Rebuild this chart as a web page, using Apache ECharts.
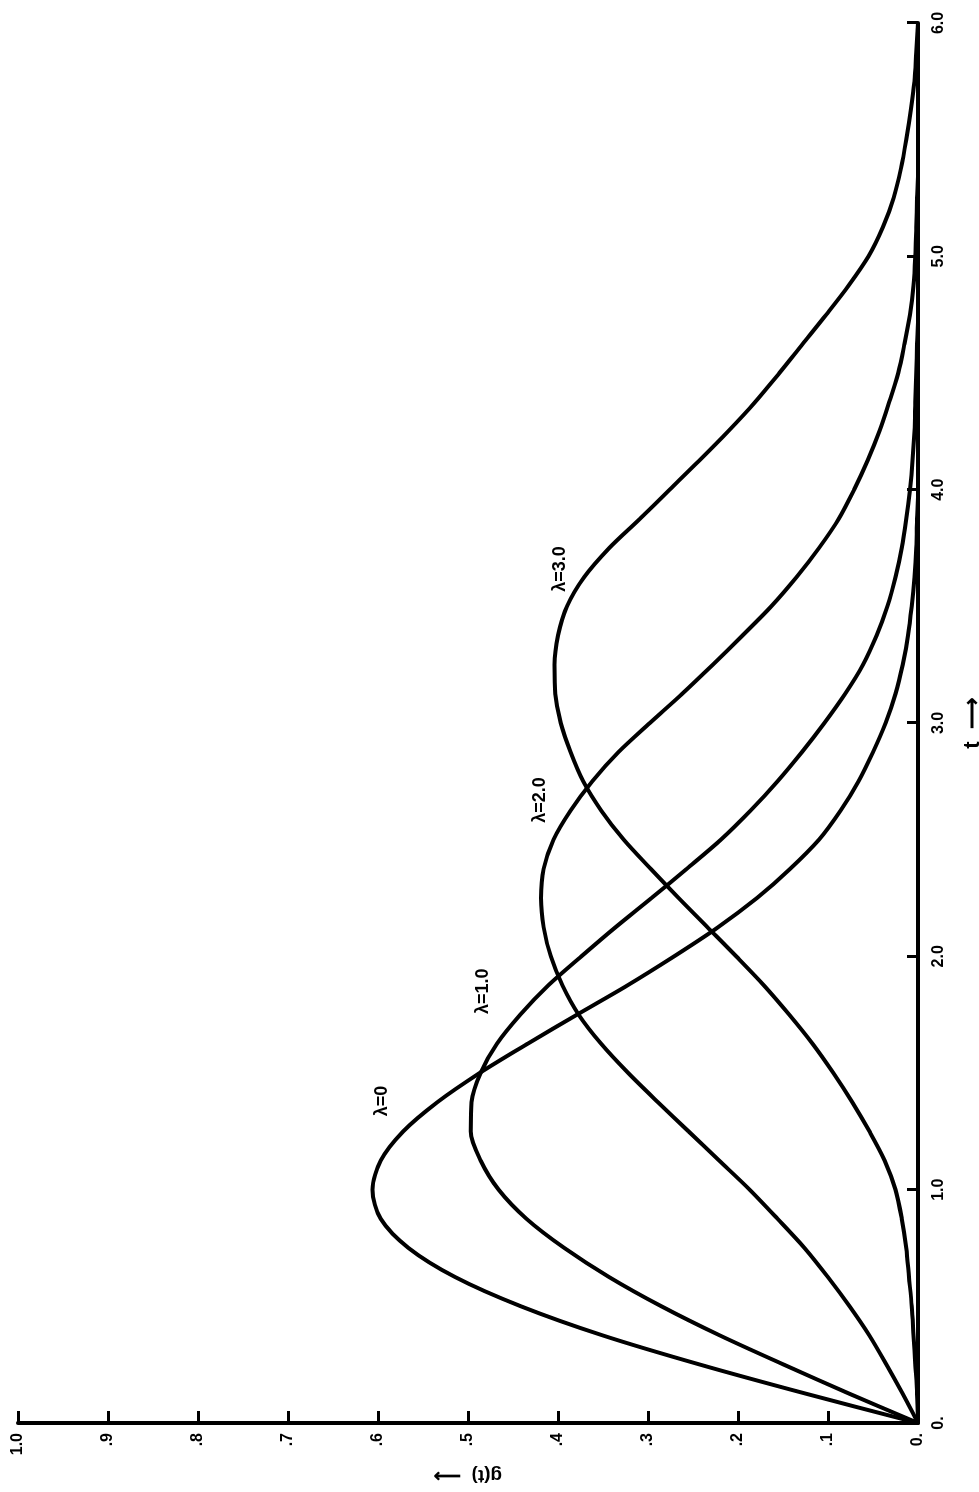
<!DOCTYPE html>
<html lang="en">
<head>
  <meta charset="UTF-8">
  <title>g(t)</title>
  <script src="https://cdn.jsdelivr.net/npm/echarts@6/dist/echarts.min.js"></script>
  <style>
    html, body {
      margin: 0;
      padding: 0;
      overflow: hidden;
      background: #fff;
      width: 979px;
      height: 1492px;
    }

    /* the figure is printed turned on its side, so draw it flat and turn the box */
    #main {
      position: absolute;
      left: 0;
      top: 0;
      width: 1492px;
      height: 979px;
      transform-origin: 0 0;
      transform: translate(0px, 1492px) rotate(-90deg);
    }
  </style>
</head>
<body>
<div id="main"></div>
<script>
  // t values (x axis)
  var tValues = [0, 0.125, 0.25, 0.375, 0.5, 0.625, 0.75, 0.875, 1.0, 1.125, 1.25, 1.375,
    1.5, 1.625, 1.75, 1.875, 2.0, 2.125, 2.25, 2.375, 2.5, 2.625, 2.75, 2.875,
    3.0, 3.125, 3.25, 3.375, 3.5, 3.625, 3.75, 3.875, 4.0, 4.125, 4.25, 4.375,
    4.5, 4.625, 4.75, 4.875, 5.0, 5.125, 5.25, 5.375, 5.5, 5.625, 5.75, 5.875, 6.0];

  // g(t)
  var gLambda0 = [0, 0.124, 0.242, 0.350, 0.441, 0.514, 0.566, 0.597, 0.606, 0.597, 0.572, 0.534,
    0.487, 0.434, 0.379, 0.323, 0.271, 0.222, 0.179, 0.142, 0.110, 0.086, 0.066, 0.050,
    0.036, 0.025, 0.017, 0.011, 0.007, 0.004, 0.002, 0.001, 0, 0, 0, 0,
    0, 0, 0, 0, 0, 0, 0, 0, 0, 0, 0, 0, 0];
  var gLambda1 = [0, 0.076, 0.149, 0.220, 0.285, 0.343, 0.393, 0.435, 0.466, 0.486, 0.497, 0.496,
    0.486, 0.468, 0.442, 0.411, 0.374, 0.336, 0.296, 0.257, 0.219, 0.186, 0.156, 0.129,
    0.104, 0.081, 0.061, 0.046, 0.034, 0.025, 0.018, 0.013, 0.009, 0.006, 0.004, 0.003,
    0.002, 0.001, 0, 0, 0, 0, 0, 0, 0, 0, 0, 0, 0];
  var gLambda2 = [0, 0.017, 0.035, 0.054, 0.076, 0.100, 0.126, 0.156, 0.187, 0.221, 0.255, 0.289,
    0.322, 0.352, 0.377, 0.395, 0.408, 0.416, 0.419, 0.416, 0.405, 0.386, 0.362, 0.333,
    0.298, 0.262, 0.228, 0.195, 0.163, 0.135, 0.110, 0.088, 0.071, 0.056, 0.043, 0.032,
    0.022, 0.015, 0.009, 0.005, 0.003, 0.002, 0.001, 0, 0, 0, 0, 0, 0];
  var gLambda3 = [0, 0.001, 0.003, 0.005, 0.007, 0.010, 0.013, 0.018, 0.025, 0.037, 0.054, 0.073,
    0.094, 0.117, 0.143, 0.171, 0.202, 0.234, 0.266, 0.297, 0.327, 0.352, 0.372, 0.386,
    0.397, 0.403, 0.404, 0.400, 0.390, 0.371, 0.343, 0.309, 0.276, 0.243, 0.211, 0.181,
    0.154, 0.128, 0.102, 0.077, 0.055, 0.039, 0.027, 0.019, 0.013, 0.008, 0.004, 0.002, 0];

  // curve names and where they are written (t, g)
  var curveNames = ['λ=0', 'λ=1.0', 'λ=2.0', 'λ=3.0'];
  var nameT = [1.38, 1.85, 2.67, 3.66];
  var nameG = [0.596, 0.483, 0.42, 0.398];

  var fontFamily = 'Liberation Sans, Arial, sans-serif';

  function makeSeries(values, idx) {
    return {
      type: 'line',
      data: tValues.map(function (t, i) {
        return [t, values[i]];
      }),
      smooth: 0.3,
      showSymbol: false,
      silent: true,
      lineStyle: {color: '#000', width: 4},
      markPoint: {
        symbol: 'circle',
        symbolSize: 0,
        label: {
          show: true,
          color: '#000',
          fontFamily: fontFamily,
          fontWeight: 'bold',
          fontSize: 18
        },
        data: [{coord: [nameT[idx], nameG[idx]], value: curveNames[idx],
          label: {formatter: curveNames[idx]}}]
      }
    };
  }

  var myChart = echarts.init(document.getElementById('main'));

  var option = {
    animation: false,
    backgroundColor: '#fff',
    grid: {
      left: 69,
      right: 23,
      top: 18,
      bottom: 61,
      containLabel: false,
      outerBoundsMode: 'none'
    },
    xAxis: {
      type: 'value',
      min: 0,
      max: 6,
      interval: 1,
      name: 't  ⟶',
      nameLocation: 'middle',
      nameGap: 44,
      nameTextStyle: {color: '#000', fontFamily: fontFamily, fontWeight: 'bold', fontSize: 22},
      axisLine: {lineStyle: {color: '#000', width: 4}},
      axisTick: {inside: true, length: 11, lineStyle: {color: '#000', width: 3}},
      splitLine: {show: false},
      axisLabel: {
        color: '#000',
        fontFamily: fontFamily,
        fontWeight: 'bold',
        fontSize: 16,
        margin: 13,
        formatter: function (v) {
          return v === 0 ? '0.' : v.toFixed(1);
        }
      }
    },
    yAxis: {
      type: 'value',
      min: 0,
      max: 1,
      interval: 0.1,
      name: 'g(t)  ⟶',
      nameLocation: 'middle',
      nameGap: 36,
      nameRotate: 90,
      nameTextStyle: {color: '#000', fontFamily: fontFamily, fontWeight: 'bold', fontSize: 19},
      axisLine: {lineStyle: {color: '#000', width: 4}},
      axisTick: {inside: true, length: 12, lineStyle: {color: '#000', width: 3}},
      splitLine: {show: false},
      axisLabel: {
        color: '#000',
        fontFamily: fontFamily,
        fontWeight: 'bold',
        fontSize: 16,
        margin: 10,
        formatter: function (v) {
          if (v === 0) return '0.';
          if (Math.abs(v - 1) < 1e-9) return '1.0';
          return '.' + Math.round(v * 10);
        }
      }
    },
    series: [
      makeSeries(gLambda0, 0),
      makeSeries(gLambda1, 1),
      makeSeries(gLambda2, 2),
      makeSeries(gLambda3, 3)
    ]
  };

  myChart.setOption(option);
</script>
</body>
</html>
